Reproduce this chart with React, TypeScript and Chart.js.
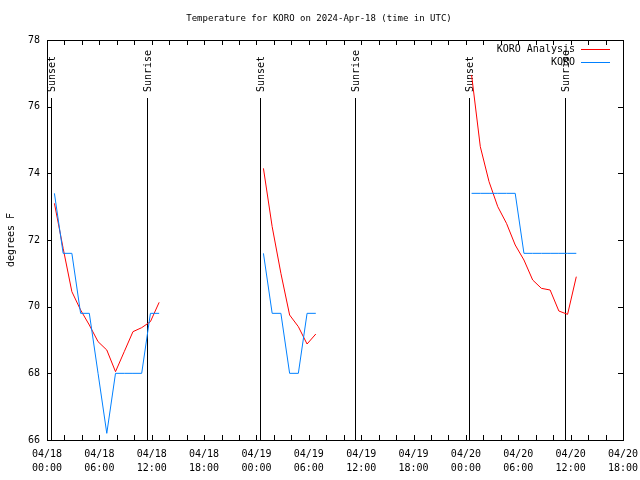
import { useEffect, useRef } from "react";
import { Chart, registerables } from "chart.js";

Chart.register(...registerables);

const chartTitle = "Temperature for KORO on 2024-Apr-18 (time in UTC)";
const yAxisTitle = "degrees F";
const seriesNames = ["KORO Analysis", "KORO"];
const seriesColors = ["#ff0000", "#0080ff"];

// x tick labels, every 6 hours from 2024-04-18 00:00 UTC
const tickDates = ["04/18", "04/18", "04/18", "04/18", "04/19", "04/19", "04/19", "04/19", "04/20", "04/20", "04/20", "04/20"];
const tickTimes = ["00:00", "06:00", "12:00", "18:00", "00:00", "06:00", "12:00", "18:00", "00:00", "06:00", "12:00", "18:00"];

// hours since 2024-04-18 00:00 UTC
const night1Hours = [0.85, 1.85, 2.85, 3.85, 4.85, 5.85, 6.85, 7.85, 8.85, 9.85, 10.85, 11.85, 12.85];
const night2Hours = [24.8, 25.8, 26.8, 27.8, 28.8, 29.8, 30.8];
const night3Hours = [48.65, 49.65, 50.65, 51.65, 52.65, 53.65, 54.65, 55.65, 56.65, 57.65, 58.65, 59.65, 60.65];

const analysisNight1 = [73.1, 71.75, 70.45, 69.9, 69.45, 68.95, 68.7, 68.05, 68.65, 69.25, 69.37, 69.55, 70.13];
const analysisNight2 = [74.15, 72.4, 71.0, 69.75, 69.4, 68.88, 69.18];
const analysisNight3 = [76.95, 74.8, 73.75, 73.0, 72.5, 71.85, 71.4, 70.8, 70.55, 70.5, 69.87, 69.77, 70.9];

const obsNight1 = [73.4, 71.6, 71.6, 69.8, 69.8, 68.0, 66.2, 68.0, 68.0, 68.0, 68.0, 69.8, 69.8];
const obsNight2 = [71.6, 69.8, 69.8, 68.0, 68.0, 69.8, 69.8];
const obsNight3 = [73.4, 73.4, 73.4, 73.4, 73.4, 73.4, 71.6, 71.6, 71.6, 71.6, 71.6, 71.6, 71.6];

const eventHours = [0.45, 11.47, 24.45, 35.32, 48.35, 59.35];
const eventLabels = ["Sunset", "Sunrise", "Sunset", "Sunrise", "Sunset", "Sunrise"];

const xMin = 0;
const xMax = 66;
const yMin = 66;
const yMax = 78;

const FONT = "'DejaVu Sans Mono', monospace";

function joinSegments(hours: number[][], temps: number[][]) {
  const out: { x: number; y: number | null }[] = [];
  hours.forEach((hs, s) => {
    if (s > 0) out.push({ x: (hours[s - 1][hours[s - 1].length - 1] + hs[0]) / 2, y: null });
    hs.forEach((h, i) => out.push({ x: h, y: temps[s][i] }));
  });
  return out;
}

const decorPlugin = {
  id: "gnuplotDecor",
  beforeDatasetsDraw(chart: any) {
    const { ctx, chartArea } = chart;
    const xs = chart.scales.x;
    ctx.save();
    ctx.strokeStyle = "#000";
    ctx.lineWidth = 1;
    ctx.fillStyle = "#000";
    ctx.font = `10px ${FONT}`;
    eventHours.forEach((h, i) => {
      const px = Math.round(xs.getPixelForValue(h)) + 0.5;
      ctx.beginPath();
      ctx.moveTo(px, chartArea.top + 58);
      ctx.lineTo(px, chartArea.bottom);
      ctx.stroke();
      ctx.save();
      ctx.translate(px + 1, chartArea.top + 52);
      ctx.rotate(-Math.PI / 2);
      ctx.textAlign = "left";
      ctx.textBaseline = "middle";
      ctx.fillText(eventLabels[i], 0, 0);
      ctx.restore();
    });
    ctx.restore();
  },
  afterDraw(chart: any) {
    const { ctx, chartArea } = chart;
    const xs = chart.scales.x;
    const ys = chart.scales.y;
    const { left, right, top, bottom } = chartArea;
    ctx.save();
    ctx.strokeStyle = "#000";
    ctx.lineWidth = 1;
    ctx.strokeRect(Math.round(left) + 0.5, Math.round(top) + 0.5, Math.round(right - left), Math.round(bottom - top));
    ctx.beginPath();
    for (let h = xMin; h <= xMax; h += 2) {
      const px = Math.round(xs.getPixelForValue(h)) + 0.5;
      ctx.moveTo(px, bottom);
      ctx.lineTo(px, bottom - 5);
      ctx.moveTo(px, top);
      ctx.lineTo(px, top + 5);
    }
    for (let v = yMin; v <= yMax; v += 2) {
      const py = Math.round(ys.getPixelForValue(v)) + 0.5;
      ctx.moveTo(left, py);
      ctx.lineTo(left + 5, py);
      ctx.moveTo(right, py);
      ctx.lineTo(right - 5, py);
    }
    ctx.stroke();

    ctx.fillStyle = "#000";
    ctx.font = `9px ${FONT}`;
    ctx.textAlign = "center";
    ctx.textBaseline = "middle";
    ctx.fillText(chartTitle, 319, 19);

    ctx.font = `10px ${FONT}`;
    ctx.save();
    ctx.translate(11, 240);
    ctx.rotate(-Math.PI / 2);
    ctx.textAlign = "center";
    ctx.textBaseline = "middle";
    ctx.fillText(yAxisTitle, 0, 0);
    ctx.restore();

    seriesNames.forEach((name, i) => {
      const y = 49 + i * 13;
      ctx.textAlign = "right";
      ctx.textBaseline = "middle";
      ctx.fillStyle = "#000";
      ctx.fillText(name, 575, y);
      ctx.strokeStyle = seriesColors[i];
      ctx.beginPath();
      ctx.moveTo(581, y + 0.5);
      ctx.lineTo(610, y + 0.5);
      ctx.stroke();
    });
    ctx.restore();
  },
};

export default function App() {
  const ref = useRef<HTMLCanvasElement | null>(null);
  useEffect(() => {
    if (!ref.current) return;
    const chart = new Chart(ref.current, {
      type: "line",
      data: {
        datasets: [
          {
            label: seriesNames[1],
            data: joinSegments([night1Hours, night2Hours, night3Hours], [obsNight1, obsNight2, obsNight3]),
            borderColor: seriesColors[1],
            borderWidth: 1,
            pointRadius: 0,
            spanGaps: false,
            tension: 0,
          },
          {
            label: seriesNames[0],
            data: joinSegments([night1Hours, night2Hours, night3Hours], [analysisNight1, analysisNight2, analysisNight3]),
            borderColor: seriesColors[0],
            borderWidth: 1,
            pointRadius: 0,
            spanGaps: false,
            tension: 0,
          },
        ],
      },
      options: {
        animation: false,
        responsive: false,
        devicePixelRatio: 1,
        layout: { padding: { top: 40, right: 17, left: 0, bottom: 0 } },
        plugins: { legend: { display: false }, title: { display: false }, tooltip: { enabled: false } },
        scales: {
          x: {
            type: "linear",
            min: xMin,
            max: xMax,
            grid: { display: false, drawTicks: false },
            border: { display: false },
            afterFit: (s: any) => {
              s.height = 40;
              s.paddingLeft = 0;
              s.paddingRight = 0;
            },
            ticks: {
              stepSize: 6,
              autoSkip: false,
              maxRotation: 0,
              padding: 7,
              color: "#000",
              font: { family: FONT, size: 10, lineHeight: 1.4 },
              callback: (v: any) => {
                const i = Math.round(Number(v) / 6);
                return [tickDates[i], tickTimes[i]];
              },
            },
          },
          y: {
            min: yMin,
            max: yMax,
            grid: { display: false, drawTicks: false },
            border: { display: false },
            afterFit: (s: any) => {
              s.width = 47;
              s.paddingTop = 0;
              s.paddingBottom = 0;
            },
            ticks: {
              stepSize: 2,
              padding: 7,
              color: "#000",
              font: { family: FONT, size: 10 },
            },
          },
        },
      },
      plugins: [decorPlugin],
    });
    return () => chart.destroy();
  }, []);
  return (
    <canvas
      ref={ref}
      width={640}
      height={480}
      style={{ position: "absolute", left: 0, top: 0, width: 640, height: 480 }}
    />
  );
}
